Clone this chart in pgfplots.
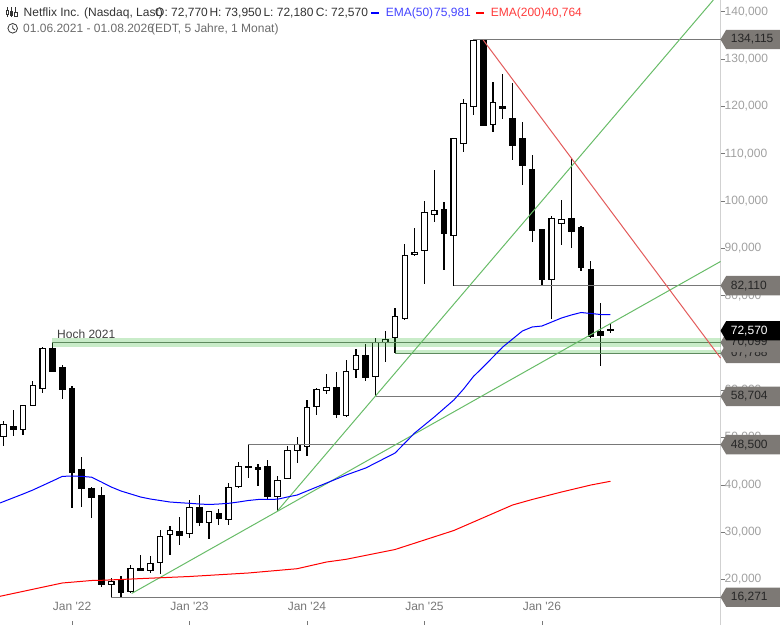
\documentclass[border=0pt]{standalone}
\usepackage{pgfplots}
\usepackage{pgfplotstable}
\usepackage{fontspec}
\pgfplotsset{compat=1.18}
\newfontfamily\lsans{Liberation Sans}
\AtBeginDocument{\lsans}
\definecolor{tagc}{HTML}{7D7975}
\definecolor{lvl}{HTML}{787878}
\definecolor{grn}{HTML}{68BC68}
\definecolor{redl}{HTML}{E25A5A}
\definecolor{bandl}{HTML}{5E8A5E}
\definecolor{ticktxt}{HTML}{A0A0A0}
\definecolor{xtxt}{HTML}{777777}
\definecolor{tblue}{HTML}{4444FF}
\definecolor{tred}{HTML}{FF3C3C}

\pgfplotstableread{
i o h l c
0 50263 53503 48291 52798
1 52376 55827 50404 51672
2 51742 56813 50615 56813
3 56813 61954 56813 61039
4 60334 69066 59489 68856
5 68856 70099 63926 63926
6 64842 65335 58221 60123
7 60405 60898 35191 42586
8 43290 45896 35402 39205
9 39135 39557 33078 37304
10 37656 39557 18499 18921
11 18992 20330 16271 19626
12 19696 20753 16386 17231
13 17442 23078 17090 22372
14 22020 25190 21880 22232
15 21880 24979 21457 23429
16 23640 30472 21175 29134
17 29556 31247 25260 30402
18 30190 33219 27373 29275
19 29768 36811 28852 35261
20 35261 37867 31388 32021
21 32092 34346 28570 34346
22 33994 34909 31599 32867
23 32655 40332 31599 39487
24 39698 44840 39416 43924
25 43924 48500 41389 43713
26 43713 44347 39839 43290
27 43783 45262 37022 37515
28 37585 41882 34557 40966
29 41389 48220 41389 47305
30 47305 50122 44699 48573
31 48150 57940 46178 56390
32 56602 60405 54841 60194
33 59982 63433 59278 60616
34 60616 63856 54207 54841
35 54630 66391 54489 63997
36 64419 68786 62659 67377
37 67377 69772 61884 62659
38 62940 70969 58704 70054
39 70054 72519 66039 70758
40 71181 77311 67788 75621
41 75198 90904 74916 88509
42 88650 94285 88369 89143
43 89566 99989 82523 97595
44 97172 106539 95623 98017
45 98229 99778 85481 93088
46 92735 113230 82110 113230
47 112174 121541 110413 120625
48 119991 134115 118160 133937
49 133796 134007 115907 115907
50 116188 125133 114639 120837
51 119851 126823 117386 119505
52 117456 124922 108723 111681
53 113230 116611 103440 107455
54 106539 109638 91397 93721
55 94003 94003 82110 83438
56 83367 96819 75056 96326
57 95199 100200 90762 96115
58 96326 108792 90128 93509
59 94424 94706 85269 85902
60 85550 87311 70972 71464
61 72450 78437 65196 71534
62 72770 73950 72180 72570
}\ohlc

\pgfplotsset{base/.style={
  scale only axis, width=720.5pt, height=625pt,
  at={(0pt,0pt)}, anchor=south west,
  xmin=-0.3575, xmax=73.24, ymin=10397, ymax=142460}}

\newcommand\pricetag[4]{%
  \fill[#2] (axis cs:73.24,#1) -- ++(5.7pt,9.7pt) -- ++(54pt,0pt) -- ++(0pt,-19.4pt) -- ++(-54pt,0pt) -- cycle;
  \node[anchor=west,inner sep=0pt,text=#3,font=\lsans\fontsize{12}{14}\selectfont] at ([xshift=10.2pt]axis cs:73.24,#1) {#4};}
\newcommand\T[4]{\node[anchor=base west,inner sep=0pt,text=#3,font=\lsans\fontsize{12}{14}\selectfont] at (#1pt,625pt-#2pt) {#4};}
\newcommand\Y[1]{625pt-#1pt}

\begin{document}
\begin{tikzpicture}
\path[use as bounding box] (0pt,0pt) rectangle (780pt,625pt);

% axis with ticks and wicks
\begin{axis}[base,
  axis x line=bottom, axis y line=right,
  axis line style={-},
  x axis line style={draw=none},
  y axis line style={draw=black!18, line width=1pt},
  xtick={7,19,31,43,55},
  xticklabels={Jan '22,Jan '23,Jan '24,Jan '25,Jan '26},
  ytick={20000,30000,...,140000},
  yticklabels={{20,000},{30,000},{40,000},{50,000},{60,000},{70,000},{80,000},{90,000},{100,000},{110,000},{120,000},{130,000},{140,000}},
  major tick length=4pt,
  xtick align=inside, ytick align=outside,
  tick style={draw=lvl, line width=0.8pt},
  minor tick num=0,
  scaled y ticks=false,
  yticklabel style={anchor=west, inner sep=0pt, xshift=0pt, text=ticktxt, font=\lsans\fontsize{12}{14}\selectfont},
  xticklabel style={anchor=center, yshift=19pt, text=xtxt, font=\lsans\fontsize{12}{14}\selectfont},
]
\addplot[draw=none, mark=none, forget plot,
  error bars/.cd, y dir=both, y explicit, error mark=none,
  error bar style={line width=1.2pt, black}]
  table[x=i, y=o, y error plus expr=\thisrow{h}-\thisrow{o}, y error minus expr=\thisrow{o}-\thisrow{l}] {\ohlc};
\end{axis}

% candle bodies
\begin{axis}[base, hide axis, ybar stacked, bar width=5.5pt, clip=false]
\addplot[draw=none, fill=none] table[x=i, y expr={min(\thisrow{o},\thisrow{c})}] {\ohlc};
\addplot[draw=black, fill=white, line width=1.2pt] table[x=i, y expr={max(\thisrow{c}-\thisrow{o},0)}] {\ohlc};
\addplot[draw=black, fill=black, line width=1.2pt] table[x=i, y expr={max(\thisrow{o}-\thisrow{c},0)}] {\ohlc};
\end{axis}

% levels, trend lines, averages, tags
\begin{axis}[base, hide axis, clip=false]
% zones
\addplot[draw=none, fill={rgb,255:red,60;green,185;blue,60}, fill opacity=0.28] coordinates {(5,71040)(73.24,71040)(73.24,69201)(5,69201)} --cycle;
\addplot[draw=none, fill={rgb,255:red,60;green,185;blue,60}, fill opacity=0.28] coordinates {(40,68505)(73.24,68505)(73.24,67765)(40,67765)} --cycle;
% horizontal levels
\addplot[lvl, line width=1pt] coordinates {(48,134115)(73.24,134115)};
\addplot[lvl, line width=1pt] coordinates {(46,82110)(73.24,82110)};
\addplot[bandl, line width=1pt] coordinates {(5,70099)(73.24,70099)};
\addplot[bandl, line width=1pt] coordinates {(40,67788)(73.24,67788)};
\addplot[lvl, line width=1pt] coordinates {(38,58704)(73.24,58704)};
\addplot[lvl, line width=1pt] coordinates {(25,48500)(73.24,48500)};
\addplot[lvl, line width=1pt] coordinates {(11,16271)(73.24,16271)};
% trend lines
\addplot[grn, line width=1pt] coordinates {(28,34548)(72.51,142459)};
\addplot[grn, line width=1pt] coordinates {(13.09,17052)(73.24,87204)};
\addplot[redl, line width=1pt] coordinates {(49,134007)(73.24,66814)};
% EMA 50
\addplot[blue, line width=1pt, mark=none] coordinates {
(-0.3575,36175)(0,36471)(1,37274)(2,38077)(3,38922)(4,39873)(5,40824)(6,41796)(7,41880)(8,41796)
(9,41627)(10,40612)(11,39556)(12,38711)(13,38077)(14,37443)(15,37020)(16,36703)(17,36386)(18,36239)
(19,36112)(20,35964)(21,35858)(22,35964)(23,36112)(24,36386)(25,36703)(26,36915)(27,36936)(28,36978)
(29,37443)(30,37865)(31,38711)(32,39556)(33,40401)(34,41246)(35,42091)(36,42831)(37,43571)(38,44627)
(39,45684)(40,46740)(41,48853)(42,50966)(43,52656)(44,54347)(45,56143)(46,57939)(47,60263)(48,62905)
(49,64912)(50,67025)(51,69138)(52,70828)(53,72519)(54,73364)(55,73575)(56,74420)(57,75266)(58,75899)
(59,76428)(60,76216)(61,76005)(62,75981)};
% EMA 200
\addplot[red, line width=1pt, mark=none] coordinates {
(-0.3575,16461)(6,19271)(9,19799)(10,19842)(19,20645)(25,21384)(30,22293)(33,23708)(35,24279)(40,26350)
(43,28357)(46,30364)(48,32160)(52,35752)(54,36915)(57,38499)(60,39978)(62,40764)};
% price tags
\pricetag{16271}{tagc}{black!85}{16,271}
\pricetag{48500}{tagc}{black!85}{48,500}
\pricetag{58704}{tagc}{black!85}{58,704}
\pricetag{67788}{tagc}{black!85}{67,788}
\pricetag{70099}{tagc}{black!85}{70,099}
\pricetag{72570}{black}{white}{72,570}
\pricetag{82110}{tagc}{black!85}{82,110}
\pricetag{134115}{tagc}{black!85}{134,115}
\end{axis}

% header
\T{23.5}{17}{black!80}{Netflix Inc. (Nasdaq, Last)}
\T{155}{17}{black!80}{O: 72,770}
\T{209.3}{17}{black!80}{H: 73,950}
\T{263.3}{17}{black!80}{L: 72,180}
\T{315.7}{17}{black!80}{C: 72,570}
\fill[blue] (371pt,\Y{14.2}) rectangle (379pt,\Y{11.8});
\T{385.7}{17}{tblue}{EMA(50)}
\T{434}{17}{tblue}{75,981}
\fill[red] (476pt,\Y{14.2}) rectangle (484pt,\Y{11.8});
\T{490.7}{17}{tred}{EMA(200)}
\T{545}{17}{tred}{40,764}
\T{23}{33}{black!58}{01.06.2021 - 01.08.2026}
\T{151}{33}{black!58}{(EDT, 5 Jahre, 1 Monat)}
\T{57}{338}{black!75}{Hoch 2021}
% candle icon
\begin{scope}[black!80, line width=0.8pt]
\draw (7.3pt,\Y{7.5}) -- (7.3pt,\Y{17});
\draw[fill=white] (6pt,\Y{10}) rectangle (8.6pt,\Y{14});
\draw (11.5pt,\Y{7.5}) -- (11.5pt,\Y{17});
\draw[fill=black!80] (10.2pt,\Y{11.5}) rectangle (12.8pt,\Y{15});
\draw (15.7pt,\Y{7.5}) -- (15.7pt,\Y{17});
\draw[fill=white] (14.4pt,\Y{12}) rectangle (17pt,\Y{16.5});
\draw (12.7pt,\Y{28.3}) circle (4.8pt);
\draw (12.7pt,\Y{25.3}) -- (12.7pt,\Y{28.3}) -- (15pt,\Y{30});
\end{scope}
\end{tikzpicture}
\end{document}
